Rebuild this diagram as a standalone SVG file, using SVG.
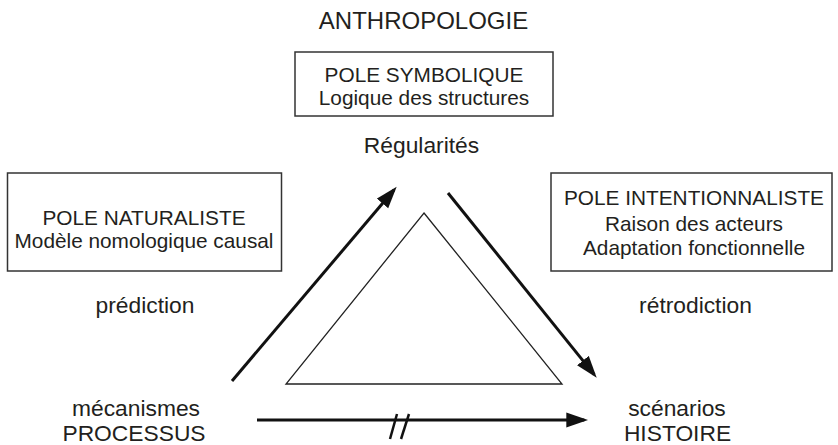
<svg xmlns="http://www.w3.org/2000/svg" width="838" height="445" viewBox="0 0 838 445">
<style>
text{font-family:"Liberation Sans",Arial,sans-serif;fill:#231f20;text-anchor:middle}
.box{fill:none;stroke:#333;stroke-width:1.5}
.bt{font-size:20.8px}
.lb{font-size:22.8px}
.arr{stroke:#111;stroke-width:3;fill:none}
.tri{fill:none;stroke:#222;stroke-width:1.3}
</style>
<defs>
<marker id="ah" markerUnits="userSpaceOnUse" markerWidth="22" markerHeight="16" viewBox="0 0 22 16" refX="18" refY="8" orient="auto">
<path d="M0,0.5 L22,8 L0,15.5 z" fill="#111"/>
</marker>
</defs>
<g id="title"><text x="423.5" y="29" style="font-size:24px">ANTHROPOLOGIE</text></g>
<g id="pole-symbolique">
<rect class="box" x="295" y="52" width="258" height="64"/>
<text class="bt" x="424" y="82">POLE SYMBOLIQUE</text>
<text class="bt" x="424" y="105">Logique des structures</text>
</g>
<g id="regularites"><text class="lb" x="421.5" y="153">Régularités</text></g>
<g id="pole-naturaliste">
<rect class="box" x="7.5" y="173" width="274" height="98"/>
<text class="bt" x="144" y="225">POLE NATURALISTE</text>
<text class="bt" x="144" y="248">Modèle nomologique causal</text>
</g>
<g id="pole-intentionnaliste">
<rect class="box" x="551" y="173" width="281" height="98"/>
<text class="bt" x="694" y="205">POLE INTENTIONNALISTE</text>
<text class="bt" x="694" y="231">Raison des acteurs</text>
<text class="bt" x="694" y="255">Adaptation fonctionnelle</text>
</g>
<g id="prediction"><text class="lb" x="145" y="313">prédiction</text></g>
<g id="retrodiction"><text class="lb" x="695.5" y="313">rétrodiction</text></g>
<g id="processus">
<text class="lb" x="136" y="416">mécanismes</text>
<text class="lb" x="134" y="441">PROCESSUS</text>
</g>
<g id="histoire">
<text class="lb" x="677" y="416">scénarios</text>
<text class="lb" x="677.5" y="441">HISTOIRE</text>
</g>
<g id="triangle"><polygon class="tri" points="424,213 562,384 286,384"/></g>
<g id="connectors">
<line class="arr" x1="232" y1="381" x2="394.1" y2="189.7" marker-end="url(#ah)"/>
<line class="arr" x1="448" y1="193" x2="594.2" y2="374.6" marker-end="url(#ah)"/>
<line class="arr" x1="257" y1="420" x2="584.3" y2="420" marker-end="url(#ah)"/>
<line stroke="#111" stroke-width="2.5" x1="397" y1="414" x2="390" y2="439"/>
<line stroke="#111" stroke-width="2.5" x1="409" y1="414" x2="401" y2="439"/>
</g>
</svg>
